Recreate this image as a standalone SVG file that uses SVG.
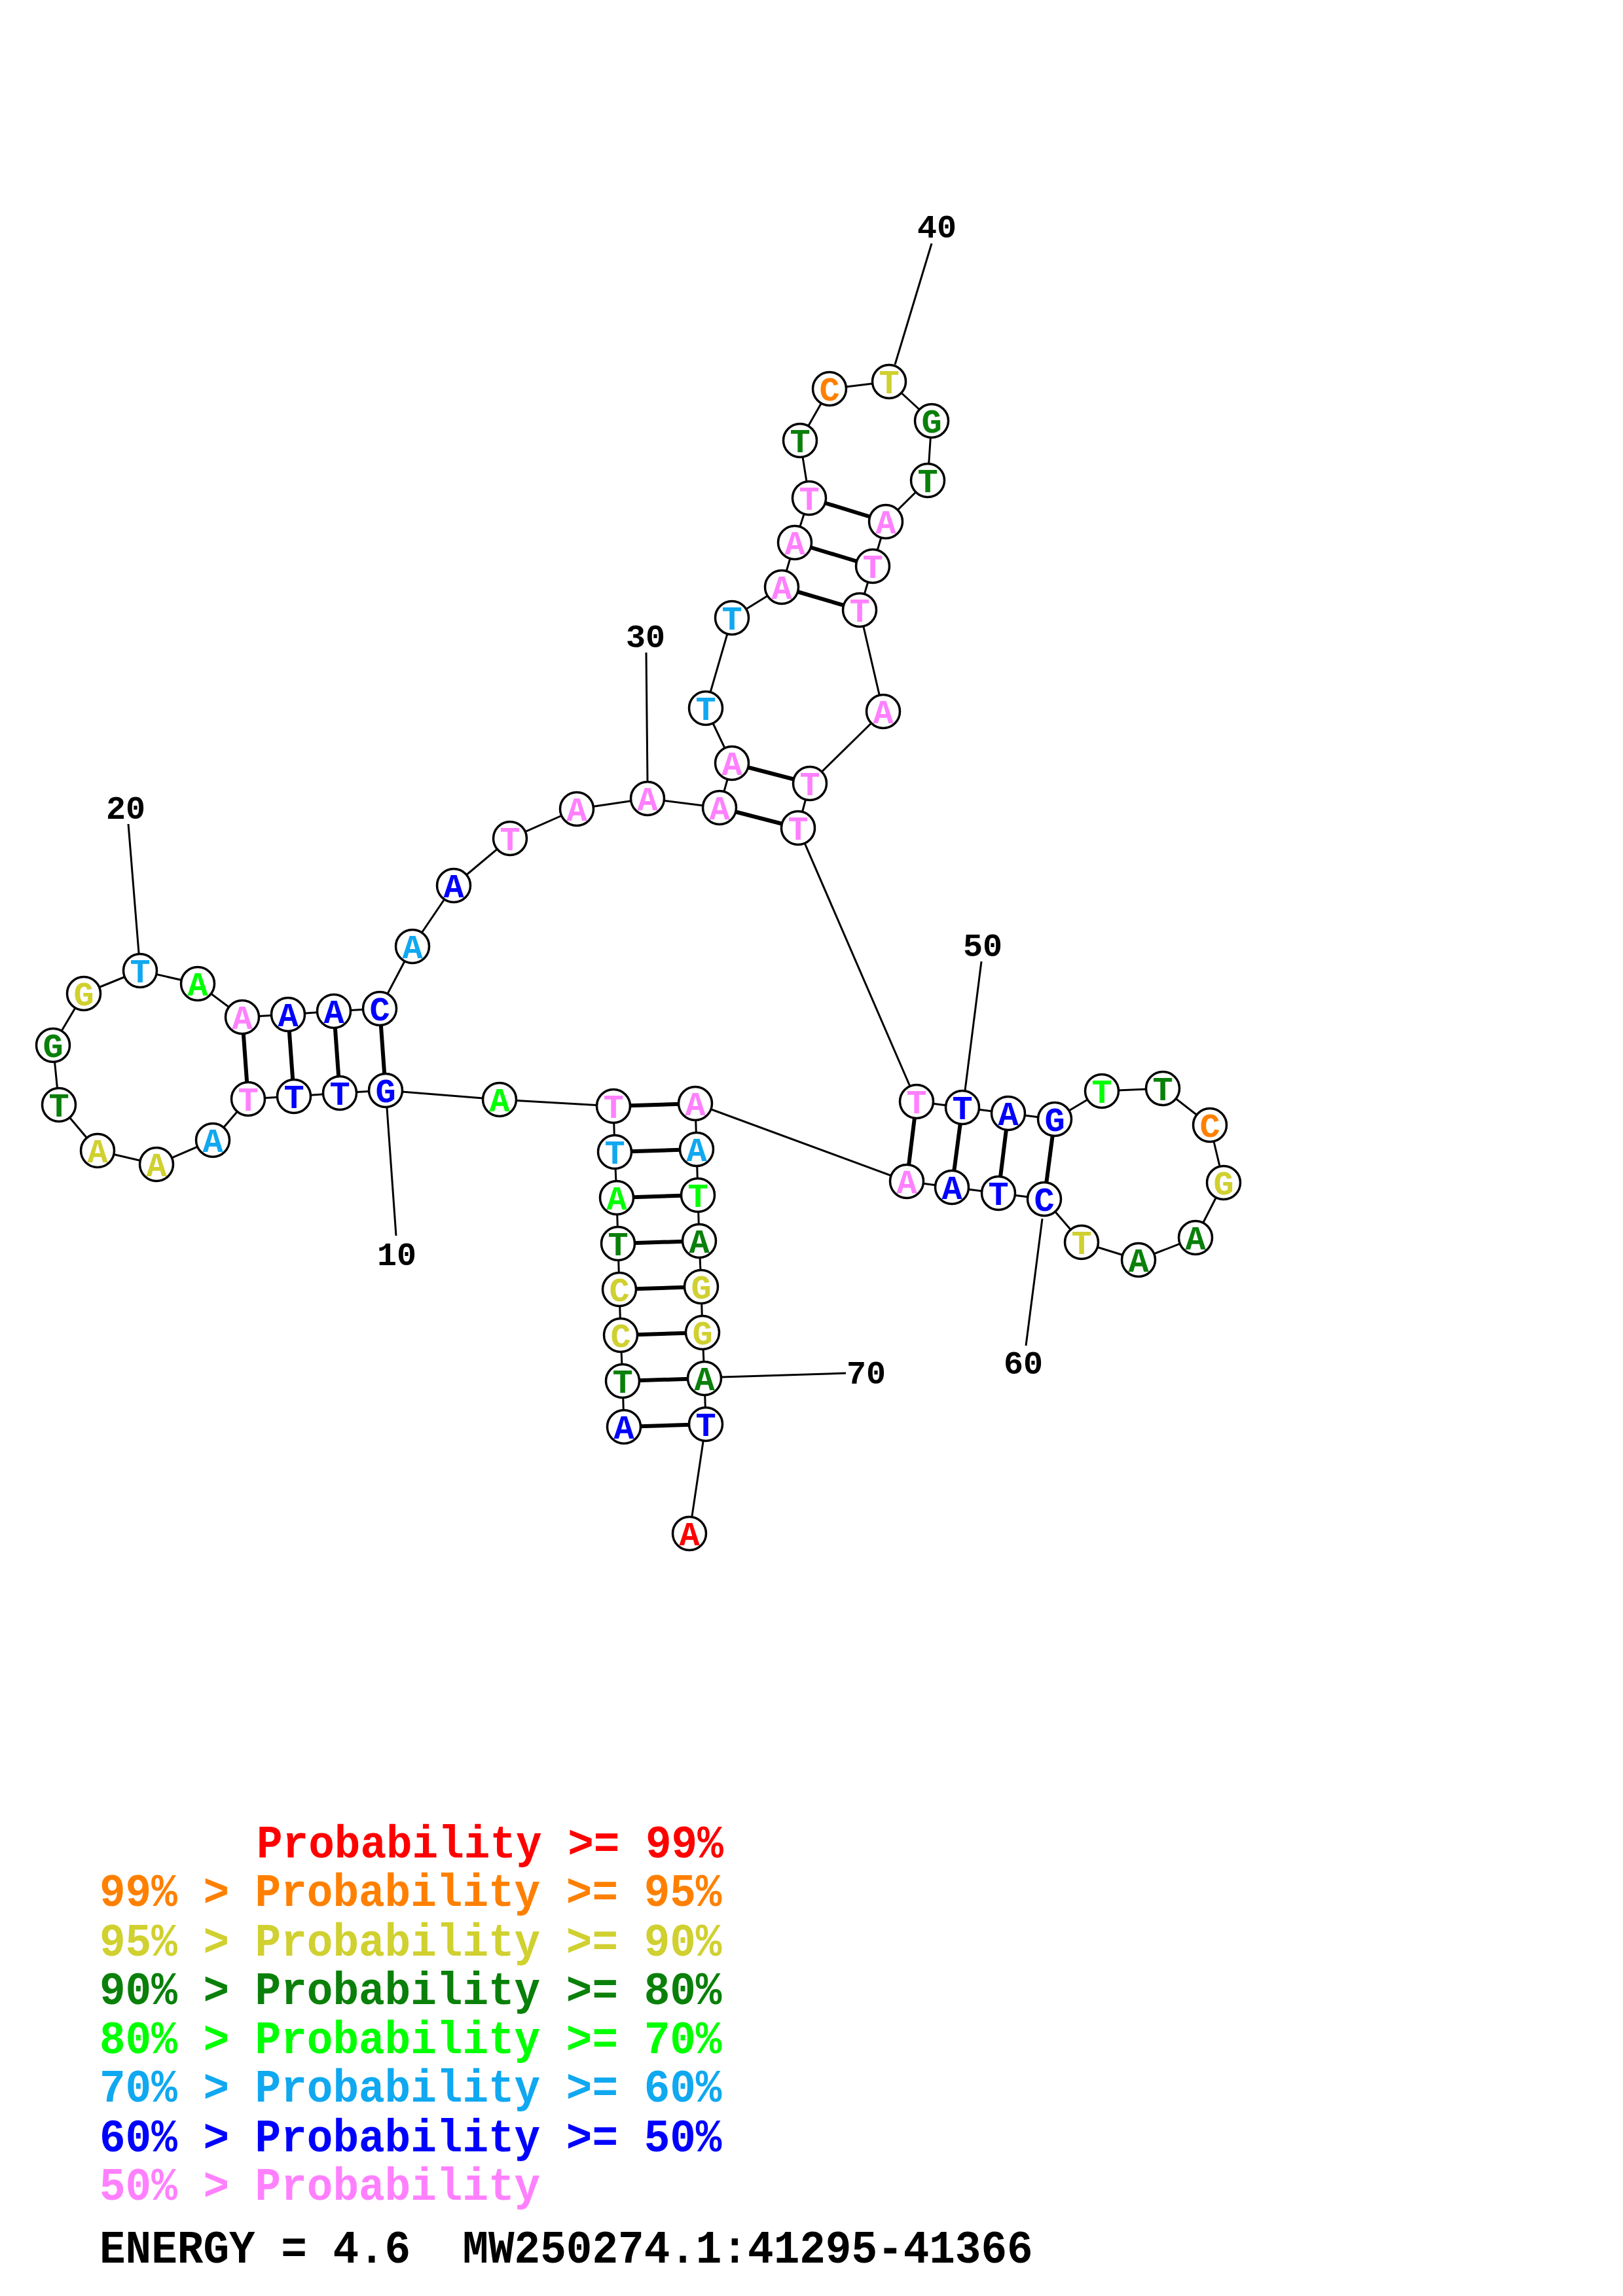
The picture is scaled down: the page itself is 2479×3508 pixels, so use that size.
<svg xmlns="http://www.w3.org/2000/svg" width="2479" height="3508" viewBox="0 0 2479 3508">
<style>
.n circle{fill:#fff;stroke:#000;stroke-width:3.5}
.n text{font-family:"Liberation Mono",monospace;font-weight:bold;font-size:52px;text-anchor:middle}
.bb{stroke:#000;stroke-width:3;fill:none;stroke-linejoin:round}
.bp{stroke:#000;stroke-width:6}
.ll{stroke:#000;stroke-width:3}
.lbl{font-family:"Liberation Mono",monospace;font-weight:bold;font-size:50px;text-anchor:middle;fill:#000}
.leg{font-family:"Liberation Mono",monospace;font-weight:bold;font-size:66px;white-space:pre}
.r{fill:#ff0000}.o{fill:#ff8000}.y{fill:#d0d030}.dg{fill:#0a800a}.g{fill:#00ff00}.c{fill:#10a8f0}.b{fill:#0000ff}.p{fill:#ff80ff}.k{fill:#000}
</style>
<rect width="2479" height="3508" fill="#fff"/>
<g id="connectors">
<polyline class="bb" points="953,2180 951,2110 948,2040 946,1970 944,1900 942,1830 939,1760 937,1690 763,1680 589,1666 519,1670 449,1675 379,1679 325,1742 239,1779 149,1758 90,1688 81,1597 128,1518 214,1483 302,1503 370,1554 440,1550 510,1545 580,1541 630,1446 693,1353 779,1281 881,1236 989,1220 1099,1234 1118,1166 1078,1082 1118,944 1194,897 1214,829 1236,761 1222,673 1267,594 1358,583 1423,643 1417,734 1353,797 1333,865 1313,932 1349,1087 1237,1197 1219,1265 1400,1683 1470,1692 1540,1701 1611,1710 1683,1667 1776,1663 1848,1719 1869,1807 1826,1891 1739,1925 1652,1898 1595,1832 1525,1823 1454,1814 1385,1805 1062,1686 1064,1756 1066,1826 1068,1896 1071,1966 1073,2036 1076,2106 1078,2176 1053,2343"/>
<line class="bp" x1="953" y1="2180" x2="1078" y2="2176"/>
<line class="bp" x1="951" y1="2110" x2="1076" y2="2106"/>
<line class="bp" x1="948" y1="2040" x2="1073" y2="2036"/>
<line class="bp" x1="946" y1="1970" x2="1071" y2="1966"/>
<line class="bp" x1="944" y1="1900" x2="1068" y2="1896"/>
<line class="bp" x1="942" y1="1830" x2="1066" y2="1826"/>
<line class="bp" x1="939" y1="1760" x2="1064" y2="1756"/>
<line class="bp" x1="937" y1="1690" x2="1062" y2="1686"/>
<line class="bp" x1="589" y1="1666" x2="580" y2="1541"/>
<line class="bp" x1="519" y1="1670" x2="510" y2="1545"/>
<line class="bp" x1="449" y1="1675" x2="440" y2="1550"/>
<line class="bp" x1="379" y1="1679" x2="370" y2="1554"/>
<line class="bp" x1="1099" y1="1234" x2="1219" y2="1265"/>
<line class="bp" x1="1118" y1="1166" x2="1237" y2="1197"/>
<line class="bp" x1="1194" y1="897" x2="1313" y2="932"/>
<line class="bp" x1="1214" y1="829" x2="1333" y2="865"/>
<line class="bp" x1="1236" y1="761" x2="1353" y2="797"/>
<line class="bp" x1="1400" y1="1683" x2="1385" y2="1805"/>
<line class="bp" x1="1470" y1="1692" x2="1454" y2="1814"/>
<line class="bp" x1="1540" y1="1701" x2="1525" y2="1823"/>
<line class="bp" x1="1611" y1="1710" x2="1595" y2="1832"/>
<line class="ll" x1="591" y1="1693" x2="605" y2="1888"/>
<line class="ll" x1="196" y1="1259" x2="212" y2="1456"/>
<line class="ll" x1="987" y1="997" x2="989" y2="1193"/>
<line class="ll" x1="1423" y1="372" x2="1367" y2="557"/>
<line class="ll" x1="1499" y1="1469" x2="1474" y2="1666"/>
<line class="ll" x1="1592" y1="1862" x2="1567" y2="2056"/>
<line class="ll" x1="1103" y1="2104" x2="1292" y2="2098"/>
</g>
<g id="labels">
<text class="lbl" x="606" y="1933">10</text>
<text class="lbl" x="192" y="1251">20</text>
<text class="lbl" x="986" y="989">30</text>
<text class="lbl" x="1431" y="363">40</text>
<text class="lbl" x="1501" y="1461">50</text>
<text class="lbl" x="1563" y="2099">60</text>
<text class="lbl" x="1323" y="2114">70</text>
</g>
<g id="n1" class="n"><circle cx="953" cy="2180" r="25.5"/><text class="b" x="953" y="2198">A</text></g>
<g id="n2" class="n"><circle cx="951" cy="2110" r="25.5"/><text class="dg" x="951" y="2128">T</text></g>
<g id="n3" class="n"><circle cx="948" cy="2040" r="25.5"/><text class="y" x="948" y="2058">C</text></g>
<g id="n4" class="n"><circle cx="946" cy="1970" r="25.5"/><text class="y" x="946" y="1988">C</text></g>
<g id="n5" class="n"><circle cx="944" cy="1900" r="25.5"/><text class="dg" x="944" y="1918">T</text></g>
<g id="n6" class="n"><circle cx="942" cy="1830" r="25.5"/><text class="g" x="942" y="1848">A</text></g>
<g id="n7" class="n"><circle cx="939" cy="1760" r="25.5"/><text class="c" x="939" y="1778">T</text></g>
<g id="n8" class="n"><circle cx="937" cy="1690" r="25.5"/><text class="p" x="937" y="1708">T</text></g>
<g id="n9" class="n"><circle cx="763" cy="1680" r="25.5"/><text class="g" x="763" y="1698">A</text></g>
<g id="n10" class="n"><circle cx="589" cy="1666" r="25.5"/><text class="b" x="589" y="1684">G</text></g>
<g id="n11" class="n"><circle cx="519" cy="1670" r="25.5"/><text class="b" x="519" y="1688">T</text></g>
<g id="n12" class="n"><circle cx="449" cy="1675" r="25.5"/><text class="b" x="449" y="1693">T</text></g>
<g id="n13" class="n"><circle cx="379" cy="1679" r="25.5"/><text class="p" x="379" y="1697">T</text></g>
<g id="n14" class="n"><circle cx="325" cy="1742" r="25.5"/><text class="c" x="325" y="1760">A</text></g>
<g id="n15" class="n"><circle cx="239" cy="1779" r="25.5"/><text class="y" x="239" y="1797">A</text></g>
<g id="n16" class="n"><circle cx="149" cy="1758" r="25.5"/><text class="y" x="149" y="1776">A</text></g>
<g id="n17" class="n"><circle cx="90" cy="1688" r="25.5"/><text class="dg" x="90" y="1706">T</text></g>
<g id="n18" class="n"><circle cx="81" cy="1597" r="25.5"/><text class="dg" x="81" y="1615">G</text></g>
<g id="n19" class="n"><circle cx="128" cy="1518" r="25.5"/><text class="y" x="128" y="1536">G</text></g>
<g id="n20" class="n"><circle cx="214" cy="1483" r="25.5"/><text class="c" x="214" y="1501">T</text></g>
<g id="n21" class="n"><circle cx="302" cy="1503" r="25.5"/><text class="g" x="302" y="1521">A</text></g>
<g id="n22" class="n"><circle cx="370" cy="1554" r="25.5"/><text class="p" x="370" y="1572">A</text></g>
<g id="n23" class="n"><circle cx="440" cy="1550" r="25.5"/><text class="b" x="440" y="1568">A</text></g>
<g id="n24" class="n"><circle cx="510" cy="1545" r="25.5"/><text class="b" x="510" y="1563">A</text></g>
<g id="n25" class="n"><circle cx="580" cy="1541" r="25.5"/><text class="b" x="580" y="1559">C</text></g>
<g id="n26" class="n"><circle cx="630" cy="1446" r="25.5"/><text class="c" x="630" y="1464">A</text></g>
<g id="n27" class="n"><circle cx="693" cy="1353" r="25.5"/><text class="b" x="693" y="1371">A</text></g>
<g id="n28" class="n"><circle cx="779" cy="1281" r="25.5"/><text class="p" x="779" y="1299">T</text></g>
<g id="n29" class="n"><circle cx="881" cy="1236" r="25.5"/><text class="p" x="881" y="1254">A</text></g>
<g id="n30" class="n"><circle cx="989" cy="1220" r="25.5"/><text class="p" x="989" y="1238">A</text></g>
<g id="n31" class="n"><circle cx="1099" cy="1234" r="25.5"/><text class="p" x="1099" y="1252">A</text></g>
<g id="n32" class="n"><circle cx="1118" cy="1166" r="25.5"/><text class="p" x="1118" y="1184">A</text></g>
<g id="n33" class="n"><circle cx="1078" cy="1082" r="25.5"/><text class="c" x="1078" y="1100">T</text></g>
<g id="n34" class="n"><circle cx="1118" cy="944" r="25.5"/><text class="c" x="1118" y="962">T</text></g>
<g id="n35" class="n"><circle cx="1194" cy="897" r="25.5"/><text class="p" x="1194" y="915">A</text></g>
<g id="n36" class="n"><circle cx="1214" cy="829" r="25.5"/><text class="p" x="1214" y="847">A</text></g>
<g id="n37" class="n"><circle cx="1236" cy="761" r="25.5"/><text class="p" x="1236" y="779">T</text></g>
<g id="n38" class="n"><circle cx="1222" cy="673" r="25.5"/><text class="dg" x="1222" y="691">T</text></g>
<g id="n39" class="n"><circle cx="1267" cy="594" r="25.5"/><text class="o" x="1267" y="612">C</text></g>
<g id="n40" class="n"><circle cx="1358" cy="583" r="25.5"/><text class="y" x="1358" y="601">T</text></g>
<g id="n41" class="n"><circle cx="1423" cy="643" r="25.5"/><text class="dg" x="1423" y="661">G</text></g>
<g id="n42" class="n"><circle cx="1417" cy="734" r="25.5"/><text class="dg" x="1417" y="752">T</text></g>
<g id="n43" class="n"><circle cx="1353" cy="797" r="25.5"/><text class="p" x="1353" y="815">A</text></g>
<g id="n44" class="n"><circle cx="1333" cy="865" r="25.5"/><text class="p" x="1333" y="883">T</text></g>
<g id="n45" class="n"><circle cx="1313" cy="932" r="25.5"/><text class="p" x="1313" y="950">T</text></g>
<g id="n46" class="n"><circle cx="1349" cy="1087" r="25.5"/><text class="p" x="1349" y="1105">A</text></g>
<g id="n47" class="n"><circle cx="1237" cy="1197" r="25.5"/><text class="p" x="1237" y="1215">T</text></g>
<g id="n48" class="n"><circle cx="1219" cy="1265" r="25.5"/><text class="p" x="1219" y="1283">T</text></g>
<g id="n49" class="n"><circle cx="1400" cy="1683" r="25.5"/><text class="p" x="1400" y="1701">T</text></g>
<g id="n50" class="n"><circle cx="1470" cy="1692" r="25.5"/><text class="b" x="1470" y="1710">T</text></g>
<g id="n51" class="n"><circle cx="1540" cy="1701" r="25.5"/><text class="b" x="1540" y="1719">A</text></g>
<g id="n52" class="n"><circle cx="1611" cy="1710" r="25.5"/><text class="b" x="1611" y="1728">G</text></g>
<g id="n53" class="n"><circle cx="1683" cy="1667" r="25.5"/><text class="g" x="1683" y="1685">T</text></g>
<g id="n54" class="n"><circle cx="1776" cy="1663" r="25.5"/><text class="dg" x="1776" y="1681">T</text></g>
<g id="n55" class="n"><circle cx="1848" cy="1719" r="25.5"/><text class="o" x="1848" y="1737">C</text></g>
<g id="n56" class="n"><circle cx="1869" cy="1807" r="25.5"/><text class="y" x="1869" y="1825">G</text></g>
<g id="n57" class="n"><circle cx="1826" cy="1891" r="25.5"/><text class="dg" x="1826" y="1909">A</text></g>
<g id="n58" class="n"><circle cx="1739" cy="1925" r="25.5"/><text class="dg" x="1739" y="1943">A</text></g>
<g id="n59" class="n"><circle cx="1652" cy="1898" r="25.5"/><text class="y" x="1652" y="1916">T</text></g>
<g id="n60" class="n"><circle cx="1595" cy="1832" r="25.5"/><text class="b" x="1595" y="1850">C</text></g>
<g id="n61" class="n"><circle cx="1525" cy="1823" r="25.5"/><text class="b" x="1525" y="1841">T</text></g>
<g id="n62" class="n"><circle cx="1454" cy="1814" r="25.5"/><text class="b" x="1454" y="1832">A</text></g>
<g id="n63" class="n"><circle cx="1385" cy="1805" r="25.5"/><text class="p" x="1385" y="1823">A</text></g>
<g id="n64" class="n"><circle cx="1062" cy="1686" r="25.5"/><text class="p" x="1062" y="1704">A</text></g>
<g id="n65" class="n"><circle cx="1064" cy="1756" r="25.5"/><text class="c" x="1064" y="1774">A</text></g>
<g id="n66" class="n"><circle cx="1066" cy="1826" r="25.5"/><text class="g" x="1066" y="1844">T</text></g>
<g id="n67" class="n"><circle cx="1068" cy="1896" r="25.5"/><text class="dg" x="1068" y="1914">A</text></g>
<g id="n68" class="n"><circle cx="1071" cy="1966" r="25.5"/><text class="y" x="1071" y="1984">G</text></g>
<g id="n69" class="n"><circle cx="1073" cy="2036" r="25.5"/><text class="y" x="1073" y="2054">G</text></g>
<g id="n70" class="n"><circle cx="1076" cy="2106" r="25.5"/><text class="dg" x="1076" y="2124">A</text></g>
<g id="n71" class="n"><circle cx="1078" cy="2176" r="25.5"/><text class="b" x="1078" y="2194">T</text></g>
<g id="n72" class="n"><circle cx="1053" cy="2343" r="25.5"/><text class="r" x="1053" y="2361">A</text></g>
<g id="legend">
<text class="leg r" transform="translate(392,2838) scale(1,1.06)">Probability &gt;= 99%</text>
<text class="leg o" transform="translate(152,2912) scale(1,1.06)">99% &gt; Probability &gt;= 95%</text>
<text class="leg y" transform="translate(152,2988) scale(1,1.06)">95% &gt; Probability &gt;= 90%</text>
<text class="leg dg" transform="translate(152,3062) scale(1,1.06)">90% &gt; Probability &gt;= 80%</text>
<text class="leg g" transform="translate(152,3137) scale(1,1.06)">80% &gt; Probability &gt;= 70%</text>
<text class="leg c" transform="translate(152,3211) scale(1,1.06)">70% &gt; Probability &gt;= 60%</text>
<text class="leg b" transform="translate(152,3287) scale(1,1.06)">60% &gt; Probability &gt;= 50%</text>
<text class="leg p" transform="translate(152,3361) scale(1,1.06)">50% &gt; Probability</text>
<text class="leg k" transform="translate(152,3457) scale(1,1.06)">ENERGY = 4.6  MW250274.1:41295-41366</text>
</g>
</svg>
